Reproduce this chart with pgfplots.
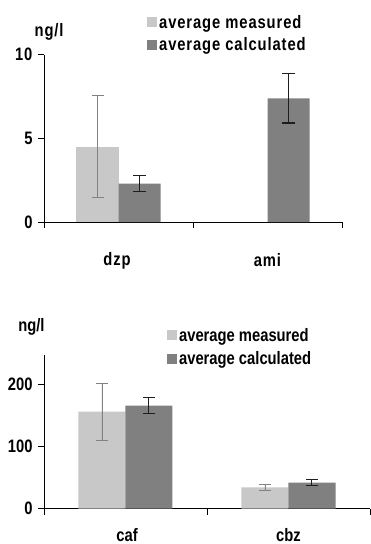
\documentclass[border=0pt]{standalone}
\usepackage{pgfplots}
\pgfplotsset{compat=1.18}
\usepackage{fontspec}
\setmainfont{Liberation Sans}
\newfontfamily\topfont[FakeStretch=0.82,LetterSpace=5.0]{Liberation Sans Bold}
\newfontfamily\botfont[FakeStretch=0.82]{Liberation Sans Bold}
\definecolor{meas}{RGB}{200,200,200}
\definecolor{calc}{RGB}{128,128,128}
\definecolor{errmeas}{RGB}{130,130,130}
\definecolor{errcalc}{RGB}{30,30,30}
\begin{document}
\begin{tikzpicture}
\path[use as bounding box] (0pt,0pt) rectangle (371pt,-544pt);
\pgfplotsset{
  common/.style={
    scale only axis, clip=false,
    xmin=0, xmax=2, ymin=0,
    axis x line*=bottom, axis y line*=left,
    axis line style={black, line width=0.8pt, -},
    tick align=outside, major tick length=6pt,
    tick style={black, line width=0.8pt},
    xtick={0,1,2}, xticklabels={},
    ybar=0pt,
    /pgf/number format/assume math mode=true,
    legend cell align=left,
    legend image code/.code={\fill[##1, draw=none] (0pt,-5pt) rectangle (10pt,5pt);},
    error bars/y dir=both, error bars/y explicit,
  },
}
% ---------------- top panel ----------------
\begin{axis}[common,
  at={(44pt,-222pt)}, anchor=south west,
  width=298pt, height=167.3pt,
  ymax=10, ytick={0,5,10},
  bar width=42pt,
  tick label style={font=\topfont\fontsize{18}{18}\selectfont},
  yticklabel style={xshift=-2pt},
  legend style={draw=none, fill=none, at={(0.3456,1.25)}, anchor=north west,
    font=\topfont\fontsize{18}{18}\selectfont, row sep=4pt,
    inner sep=0pt},
]
\addplot[fill=meas, draw=none,
  error bars/error bar style={errmeas, line width=0.7pt},
  error bars/error mark options={errmeas, line width=0.7pt, mark size=6pt, rotate=90}]
  coordinates {(0.5,4.5) +- (0,3.05)};
\addplot[fill=calc, draw=none,
  error bars/error bar style={errcalc, line width=1.1pt},
  error bars/error mark options={errcalc, line width=1.1pt, mark size=6.5pt, rotate=90}]
  coordinates {(0.5,2.29) +- (0,0.48) (1.5,7.39) +- (0,1.47)};
\legend{average measured, average calculated}
\node[font=\topfont\fontsize{18}{18}\selectfont] at (axis cs:0.034,11.36) {ng/l};
\node[font=\topfont\fontsize{18}{18}\selectfont] at (axis cs:0.49,-2.3) {dzp};
\node[font=\topfont\fontsize{18}{18}\selectfont] at (axis cs:1.5,-2.3) {ami};
\end{axis}
% ---------------- bottom panel ----------------
\begin{axis}[common,
  at={(44pt,-508.7pt)}, anchor=south west,
  width=326pt, height=153.7pt,
  ymax=248, ytick={0,100,200},
  bar width=47pt,
  tick label style={font=\botfont\fontsize{18}{18}\selectfont},
  yticklabel style={xshift=-2pt},
  legend style={draw=none, fill=none, at={(0.377,1.19)}, anchor=north west,
    font=\botfont\fontsize{18}{18}\selectfont, row sep=5pt,
    inner sep=0pt},
]
\addplot[fill=meas, draw=none,
  error bars/error bar style={errmeas, line width=0.8pt},
  error bars/error mark options={errmeas, line width=0.8pt, mark size=6pt, rotate=90}]
  coordinates {(0.5,156.5) +- (0,45.5) (1.5,34.4) +- (0,4.3)};
\addplot[fill=calc, draw=none,
  error bars/error bar style={errcalc, line width=1.0pt},
  error bars/error mark options={errcalc, line width=1.0pt, mark size=6pt, rotate=90}]
  coordinates {(0.5,166.5) +- (0,12.6) (1.5,42.0) +- (0,5.3)};
\legend{average measured, average calculated}
\node[font=\botfont\fontsize{18}{18}\selectfont] at (axis cs:-0.077,293.8) {ng/l};
\node[font=\botfont\fontsize{18}{18}\selectfont] at (axis cs:0.51,-42) {caf};
\node[font=\botfont\fontsize{18}{18}\selectfont] at (axis cs:1.5,-42) {cbz};
\end{axis}
\end{tikzpicture}
\end{document}
